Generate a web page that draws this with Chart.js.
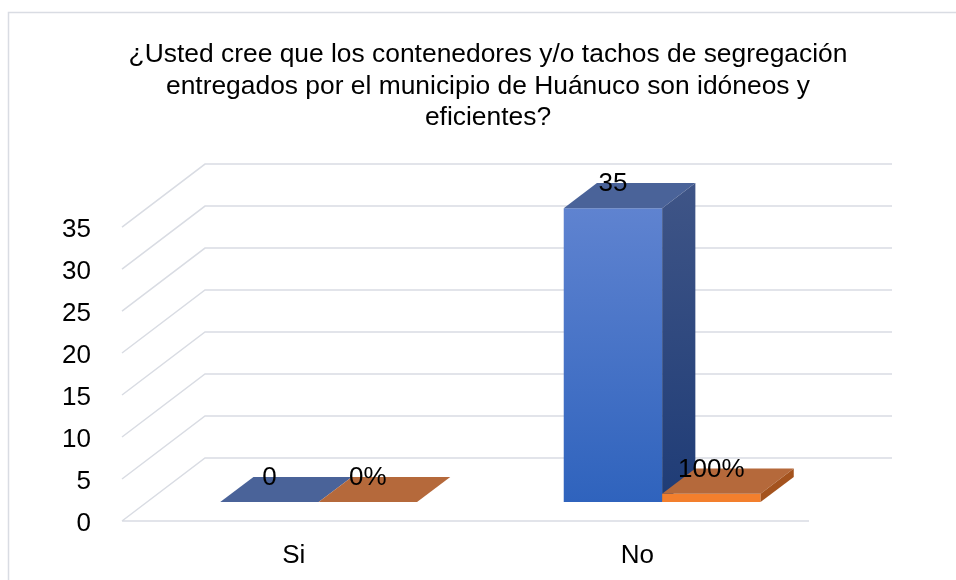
<!DOCTYPE html>
<html>
<head>
<meta charset="utf-8">
<style>
  html, body { margin: 0; padding: 0; background: #fff; }
</style>
<script src="https://cdn.jsdelivr.net/npm/chart.js@4.4.1/dist/chart.umd.min.js"></script>
</head>
<body>
<canvas id="myChart" width="956" height="580"></canvas>
<script>
const categories = ['Si', 'No'];
const counts = [0, 35];
const shares = [0, 1]; // 0% and 100%
const titleLines = [
  '¿Usted cree que los contenedores y/o tachos de segregación',
  'entregados por el municipio de Huánuco son idóneos y',
  'eficientes?'
];
const yMax = 35;
const yStep = 5;

// fake 3d: depth of the wall and where the bars sit inside it
const WALL_DX = 83, WALL_DY = 63;
const NEAR = 0.3, FAR = 0.7;
const FONT = '"Liberation Sans", Arial, sans-serif';
const GRID = '#d9dce3';

const faces = [
  { top: '#4a6399', side: ['#3f5587', '#1f3c76'] },
  { top: '#b5693b', side: ['#a4531e', '#a4531e'] }
];

Chart.defaults.color = '#000';
Chart.defaults.font.family = FONT;

function blueFront(chart) {
  const area = chart.chartArea;
  if (!area) return '#4372c4';
  const g = chart.ctx.createLinearGradient(0, area.top, 0, area.bottom);
  g.addColorStop(0, '#5f83d0');
  g.addColorStop(1, '#2f63bd');
  return g;
}

const box3d = {
  id: 'box3d',
  beforeDraw(chart) {
    const ctx = chart.ctx;
    ctx.save();
    ctx.strokeStyle = GRID;
    ctx.lineWidth = 1.5;
    ctx.strokeRect(8.5, 12.5, 1200, 1200);
    ctx.restore();
  },
  beforeDatasetsDraw(chart) {
    const ctx = chart.ctx;
    const area = chart.chartArea;
    const ys = chart.scales.y;

    // side wall + back wall grid
    ctx.save();
    ctx.strokeStyle = GRID;
    ctx.lineWidth = 1.5;
    ctx.beginPath();
    ys.ticks.forEach(t => {
      const py = ys.getPixelForValue(t.value);
      ctx.moveTo(area.left, py);
      ctx.lineTo(area.left + WALL_DX, py - WALL_DY);
      ctx.lineTo(area.right + WALL_DX, py - WALL_DY);
    });
    ctx.moveTo(area.left, area.bottom);
    ctx.lineTo(area.right, area.bottom);
    ctx.stroke();

    const nx = NEAR * WALL_DX, ny = NEAR * WALL_DY;
    const fx = FAR * WALL_DX, fy = FAR * WALL_DY;

    // left to right so each bar covers the side of the one before
    categories.forEach((c, i) => {
      chart.data.datasets.forEach((ds, d) => {
        const bar = chart.getDatasetMeta(d).data[i];
        const p = bar.getProps(['x', 'y', 'base', 'width'], true);
        const l = p.x - p.width / 2, r = p.x + p.width / 2;

        ctx.save();
        ctx.translate(nx, -ny);
        bar.draw(ctx);
        ctx.restore();

        // top
        ctx.fillStyle = faces[d].top;
        ctx.beginPath();
        ctx.moveTo(l + nx, p.y - ny);
        ctx.lineTo(r + nx, p.y - ny);
        ctx.lineTo(r + fx, p.y - fy);
        ctx.lineTo(l + fx, p.y - fy);
        ctx.closePath();
        ctx.fill();

        // side
        if (p.base - p.y > 0.5) {
          const g = ctx.createLinearGradient(0, area.top - fy, 0, area.bottom - ny);
          g.addColorStop(0, faces[d].side[0]);
          g.addColorStop(1, faces[d].side[1]);
          ctx.fillStyle = g;
          ctx.beginPath();
          ctx.moveTo(r + nx, p.y - ny);
          ctx.lineTo(r + fx, p.y - fy);
          ctx.lineTo(r + fx, p.base - fy);
          ctx.lineTo(r + nx, p.base - ny);
          ctx.closePath();
          ctx.fill();
        }
      });
    });
    ctx.restore();
    return false;
  },
  afterDraw(chart) {
    const ctx = chart.ctx;
    const nx = NEAR * WALL_DX, fy = FAR * WALL_DY;
    ctx.save();
    ctx.font = '26px ' + FONT;
    ctx.fillStyle = '#000';
    ctx.textAlign = 'center';
    ctx.textBaseline = 'middle';
    chart.data.datasets.forEach((ds, d) => {
      chart.getDatasetMeta(d).data.forEach((bar, i) => {
        const v = ds.data[i];
        const txt = d === 0 ? String(v) : Math.round(v * 100) + '%';
        ctx.fillText(txt, bar.x + nx, bar.y - fy + 1);
      });
    });
    ctx.restore();
  }
};

new Chart(document.getElementById('myChart'), {
  type: 'bar',
  data: {
    labels: categories,
    datasets: [
      {
        label: 'Cantidad',
        data: counts,
        backgroundColor: c => blueFront(c.chart),
        borderWidth: 0,
        barPercentage: 1,
        categoryPercentage: 0.573
      },
      {
        label: 'Porcentaje',
        data: shares,
        backgroundColor: '#f37f2d',
        borderWidth: 0,
        barPercentage: 1,
        categoryPercentage: 0.573
      }
    ]
  },
  options: {
    responsive: false,
    animation: false,
    layout: { padding: { left: 20, right: 0, top: 0, bottom: 0 } },
    plugins: {
      legend: { display: false },
      tooltip: { enabled: false },
      title: {
        display: true,
        text: titleLines,
        color: '#000',
        font: { size: 26.4, weight: 'normal', lineHeight: 1.2 },
        padding: { top: 39, bottom: 93 }
      }
    },
    scales: {
      x: {
        grid: { display: false },
        border: { display: false },
        ticks: { font: { size: 26 }, padding: 11, color: '#000' },
        afterFit: s => { s.height = 59; }
      },
      y: {
        min: 0,
        max: yMax,
        grid: { display: false },
        border: { display: false },
        ticks: { stepSize: yStep, font: { size: 26 }, padding: 23, labelOffset: 3, color: '#000' },
        afterFit: s => { s.width = 102; }
      },
      y2: {
        position: 'right',
        display: true,
        grid: { display: false },
        border: { display: false },
        ticks: { display: false },
        afterFit: s => { s.width = 147; }
      }
    }
  },
  plugins: [box3d]
});
</script>
</body>
</html>
